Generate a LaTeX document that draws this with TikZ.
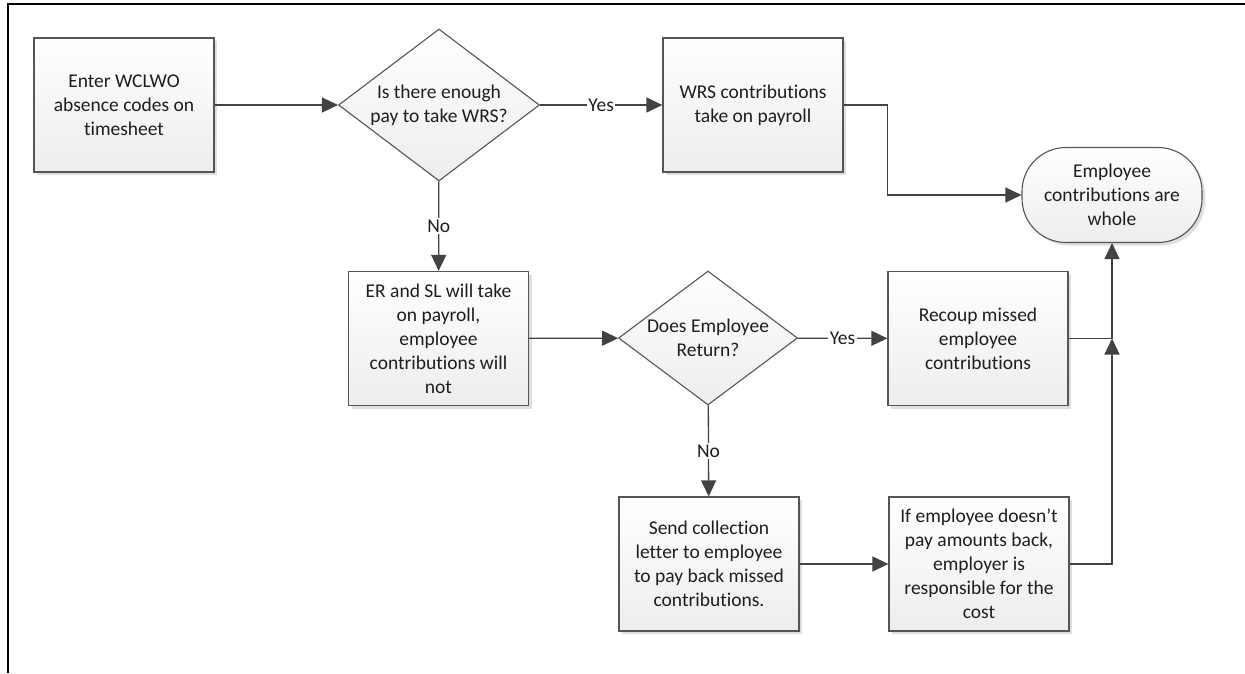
\documentclass[tikz,border=0pt]{standalone}
\usepackage{fontspec}
\setmainfont{Carlito}[Ligatures=NoCommon]
\usetikzlibrary{arrows.meta,shapes.geometric,shadows}
\definecolor{edgec}{HTML}{555555}
\definecolor{arrc}{HTML}{424242}
\definecolor{txtc}{HTML}{1E1E1E}
\begin{document}
\begin{tikzpicture}[x=1pt,y=-1pt,
  font=\fontsize{19.5}{24}\selectfont,
  every node/.style={text=txtc},
  shade/.style={top color=white, bottom color=black!7},
  shd/.style={drop shadow={shadow xshift=3pt, shadow yshift=-3pt, fill=black!13, opacity=1}},
  proc/.style={draw=edgec, line width=1.3pt, shade, shd, minimum width=180pt, minimum height=134pt, align=center, inner sep=0pt},
  dia/.style={draw=edgec, line width=1.1pt, diamond, shade, inner sep=0pt},
  term/.style={draw=edgec, line width=1.1pt, shade, shd, rounded corners=44pt, minimum width=180pt, minimum height=95pt, align=center, inner sep=0pt},
  txtn/.style={align=center, inner sep=0pt},
  conn/.style={draw=arrc, line width=1.3pt, -{Triangle[length=16pt,width=15pt]}},
  plain/.style={draw=arrc, line width=1.3pt},
  lbl/.style={fill=white, inner sep=1.5pt}
]
\useasboundingbox (0,0) rectangle (1245,673);
% frame lines
\draw[line width=1.8pt, black] (8,673) -- (8,4) -- (1245,4);

% nodes
\node[proc] (b1) at (124,105) {Enter WCLWO\\absence codes on\\timesheet};
\node[dia, minimum width=201pt, minimum height=152pt] (d1) at (439,105) {};
\node[txtn] (t1) at (d1) {Is there enough\\pay to take WRS?};
\node[proc] (b2) at (753,105) {WRS contributions\\take on payroll};
\node[term] (tm) at (1112,195) {Employee\\contributions are\\whole};
\node[proc] (b3) at (438.5,338.5) {ER and SL will take\\on payroll,\\employee\\contributions will\\not};
\node[dia, minimum width=179pt, minimum height=134pt] (d2) at (708,338) {};
\node[txtn] (t2) at (d2) {Does Employee\\Return?};
\node[proc] (b4) at (978,338.5) {Recoup missed\\employee\\contributions};
\node[proc] (b5) at (709,564) {Send collection\\letter to employee\\to pay back missed\\contributions.};
\node[proc] (b6) at (979,564) {If employee doesn’t\\pay amounts back,\\employer is\\responsible for the\\cost};
\coordinate (j) at (1112,338.5);

% connectors
\draw[conn] (b1) -- (d1);
\draw[conn] (d1) -- node[lbl] (y1) {Yes} (b2);
\draw[conn] (b2.east) -- ++(44,0) |- (tm.west);
\draw[conn] (d1) -- node[lbl] (n1) {No} (b3);
\draw[conn] (b3) -- (d2);
\draw[conn] (d2) -- node[lbl] (y2) {Yes} (b4);
\draw[conn] (d2) -- node[lbl] (n2) {No} (b5);
\draw[conn] (b5) -- (b6);
\draw[plain] (b4.east) -- (j);
\draw[conn] (j) -- (tm.south);
\draw[conn] (b6.east) -| (j);
\end{tikzpicture}
\end{document}
